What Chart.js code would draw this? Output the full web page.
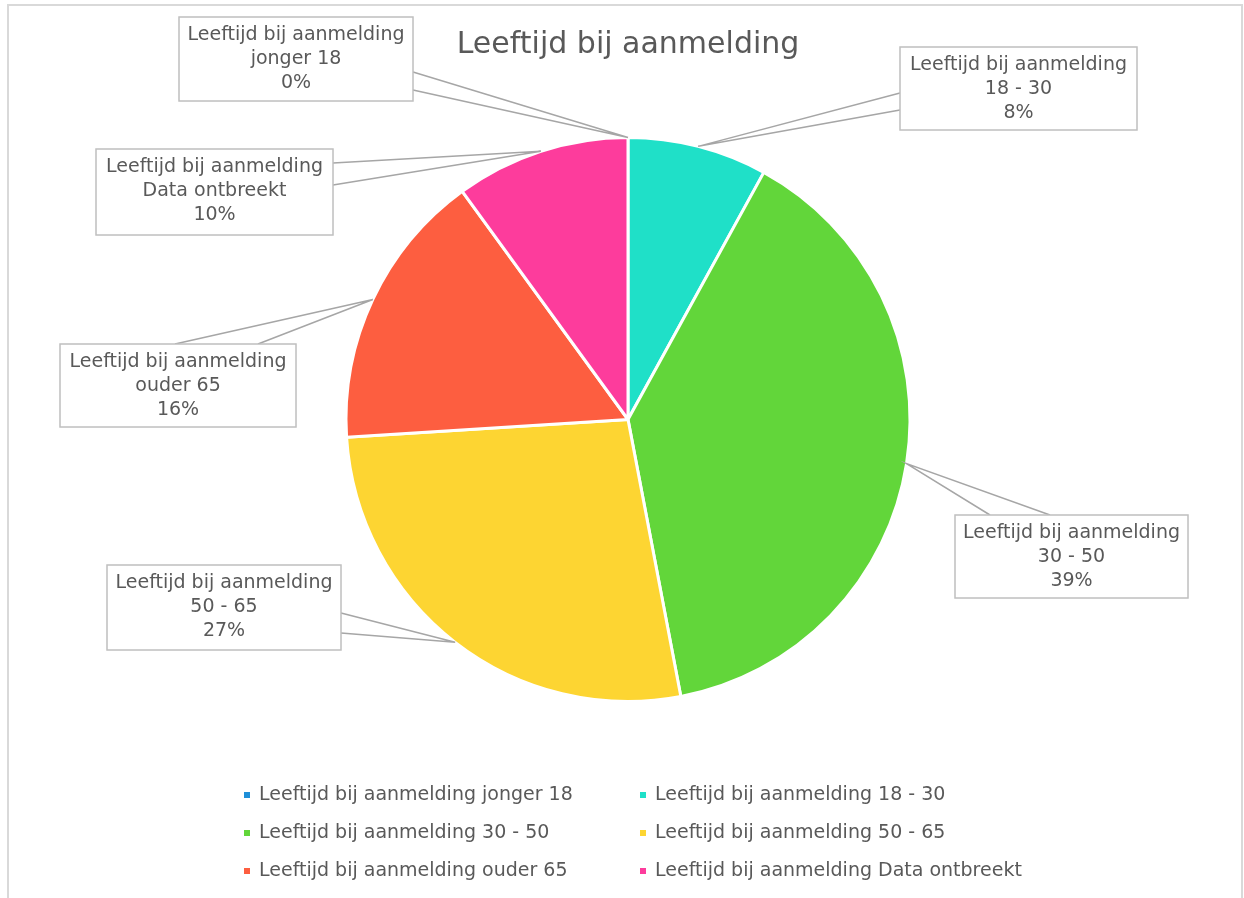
<!DOCTYPE html>
<html>
<head>
<meta charset="utf-8">
<script src="https://cdn.jsdelivr.net/npm/chart.js@4/dist/chart.umd.min.js"></script>
<style>
  html, body { margin: 0; padding: 0; background: #fff; }
  #wrap { width: 1244px; height: 898px; position: relative; }
</style>
</head>
<body>
<div id="wrap"><canvas id="pieChart"></canvas></div>
<script>
"use strict";

const seriesName = "Leeftijd bij aanmelding";
const categories = ["jonger 18", "18 - 30", "30 - 50", "50 - 65", "ouder 65", "Data ontbreekt"];
const values = [0, 8, 39, 27, 16, 10];
const colors = ["#1f8fd8", "#1fe0c8", "#62d63a", "#fdd532", "#fd5e40", "#fd3c9c"];

// callout boxes (x, y, w, h) and wedge base points, one per slice
const boxes = [
	{ x: 179, y: 17, w: 234, h: 84, base: [[413, 72], [413, 90]] },
	{ x: 900, y: 47, w: 237, h: 83, base: [[900, 93], [900, 110]] },
	{ x: 955, y: 515, w: 233, h: 83, base: [[990, 515], [1050, 515]] },
	{ x: 107, y: 565, w: 234, h: 85, base: [[341, 613], [341, 633]] },
	{ x: 60, y: 344, w: 236, h: 83, base: [[175, 344], [258, 344]] },
	{ x: 96, y: 149, w: 237, h: 86, base: [[333, 163], [333, 185]] },
];

const textColor = "#595959";
const fontFamily = "'DejaVu Sans', sans-serif";

const framePlugin = {
	id: "frame",
	beforeDraw(chart) {
		const c = chart.ctx;
		c.save();
		c.strokeStyle = "#d9d9d9";
		c.lineWidth = 2;
		c.strokeRect(8, 5, 1234, 900);
		c.restore();
	},
};

const calloutPlugin = {
	id: "callouts",
	afterDatasetsDraw(chart) {
		const c = chart.ctx;
		const meta = chart.getDatasetMeta(0);
		const total = values.reduce((a, b) => a + b, 0);
		c.save();
		meta.data.forEach((arc, i) => {
			const b = boxes[i];
			const mid = (arc.startAngle + arc.endAngle) / 2;
			const tx = arc.x + Math.cos(mid) * arc.outerRadius;
			const ty = arc.y + Math.sin(mid) * arc.outerRadius;
			// wedge
			c.strokeStyle = "#a6a6a6";
			c.lineWidth = 1.5;
			c.beginPath();
			c.moveTo(b.base[0][0], b.base[0][1]);
			c.lineTo(tx, ty);
			c.lineTo(b.base[1][0], b.base[1][1]);
			c.stroke();
			// box
			c.fillStyle = "#fff";
			c.fillRect(b.x, b.y, b.w, b.h);
			c.strokeStyle = "#bfbfbf";
			c.lineWidth = 1.5;
			c.strokeRect(b.x, b.y, b.w, b.h);
			// text
			c.fillStyle = textColor;
			c.font = "19px " + fontFamily;
			c.textAlign = "center";
			c.textBaseline = "middle";
			const cx = b.x + b.w / 2;
			const pct = Math.round((values[i] / total) * 100) + "%";
			c.fillText(seriesName, cx, b.y + 18);
			c.fillText(categories[i], cx, b.y + 42);
			c.fillText(pct, cx, b.y + 66);
		});
		c.restore();
	},
};

const legendPlugin = {
	id: "gridLegend",
	afterDraw(chart) {
		const c = chart.ctx;
		const cols = [247, 643];
		const rows = [795, 833, 871];
		c.save();
		c.font = "19px " + fontFamily;
		c.textAlign = "left";
		c.textBaseline = "middle";
		categories.forEach((cat, i) => {
			const x = cols[i % 2];
			const y = rows[Math.floor(i / 2)];
			c.fillStyle = colors[i];
			c.fillRect(x - 3, y - 3, 6, 6);
			c.fillStyle = textColor;
			c.fillText(seriesName + " " + cat, x + 12, y);
		});
		c.restore();
	},
};

const ctx = document.getElementById("pieChart");

new Chart(ctx, {
	type: "pie",
	data: {
		labels: categories.map((c) => seriesName + " " + c),
		datasets: [
			{
				label: seriesName,
				data: values,
				backgroundColor: colors,
				borderColor: "#ffffff",
				borderWidth: 3,
				hoverOffset: 0,
				radius: 282,
			},
		],
	},
	options: {
		responsive: true,
		maintainAspectRatio: false,
		animation: false,
		events: [],
		layout: {
			padding: { left: 12, right: 0, top: 0, bottom: 132 },
		},
		plugins: {
			legend: { display: false },
			tooltip: { enabled: false },
			title: {
				display: true,
				text: seriesName,
				color: textColor,
				font: { family: fontFamily, size: 30, weight: "normal", lineHeight: 1.2 },
				padding: { top: 27, bottom: 10 },
			},
		},
	},
	plugins: [framePlugin, calloutPlugin, legendPlugin],
});
</script>
</body>
</html>
